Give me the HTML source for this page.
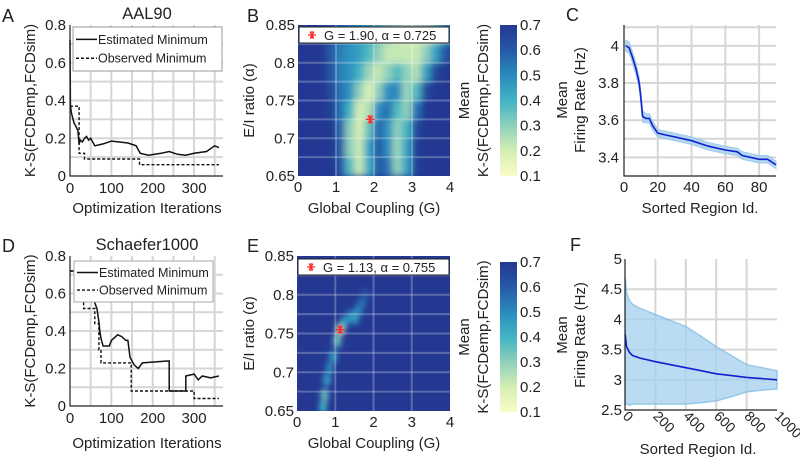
<!DOCTYPE html>
<html><head><meta charset="utf-8"><style>
html,body{margin:0;padding:0;background:#fff;}
svg{display:block;font-family:"Liberation Sans",sans-serif;}
</style></head><body>
<svg id="fig" width="800" height="460" viewBox="0 0 800 460" xmlns="http://www.w3.org/2000/svg">
<defs>
<filter id="blurB" x="-10%" y="-10%" width="120%" height="120%"><feGaussianBlur stdDeviation="3.5" edgeMode="duplicate"/></filter>
<filter id="blurE" x="-20%" y="-20%" width="140%" height="140%"><feGaussianBlur stdDeviation="3"/></filter>
<clipPath id="clipB"><rect x="298" y="25" width="152" height="151"/></clipPath>
<clipPath id="clipE"><rect x="297" y="256" width="153" height="155"/></clipPath>
<linearGradient id="cbar" x1="0" y1="1" x2="0" y2="0">
<stop offset="0" stop-color="#fafcc8"/><stop offset="0.1667" stop-color="#d4eeb3"/><stop offset="0.3333" stop-color="#8fd0bb"/><stop offset="0.5" stop-color="#41b4c4"/><stop offset="0.6667" stop-color="#2a8bbf"/><stop offset="0.8333" stop-color="#2559a6"/><stop offset="1" stop-color="#243892"/>
</linearGradient>
</defs>
<g id="root"></g>
</svg>
<script>
// ---------- DATA ----------
const aEstX=[0,1,3,6,10,15,19,22,25,30,35,40,45,50,60,80,100,120,140,160,165,170,190,220,240,260,280,300,330,350,360];
const aEstY=[0.72,0.38,0.34,0.31,0.28,0.26,0.24,0.17,0.19,0.18,0.2,0.21,0.19,0.2,0.16,0.17,0.185,0.18,0.175,0.16,0.14,0.12,0.11,0.12,0.13,0.115,0.11,0.12,0.13,0.16,0.15];
const aObsX=[0,22,22,35,35,168,168,360];
const aObsY=[0.37,0.37,0.12,0.12,0.09,0.09,0.06,0.06];
const dEstX=[0,30,30,50,50,55,60,65,70,72,75,80,95,100,115,125,135,140,145,150,155,165,175,235,240,240,280,280,300,310,320,340,360];
const dEstY=[0.72,0.72,0.70,0.70,0.62,0.6,0.55,0.52,0.45,0.4,0.36,0.32,0.32,0.35,0.38,0.37,0.35,0.35,0.26,0.24,0.22,0.2,0.23,0.24,0.24,0.08,0.08,0.16,0.17,0.14,0.16,0.15,0.16];
const dObsX=[0,25,25,33,33,60,60,70,70,75,75,148,148,300,300,360];
const dObsY=[0.72,0.72,0.66,0.66,0.52,0.52,0.44,0.44,0.3,0.3,0.23,0.23,0.08,0.08,0.04,0.04];
const cX=[1,3,5,7,9,10,11,13,15,17,20,25,30,40,50,60,67,70,80,85,90];
const cMean=[4.0,3.99,3.94,3.88,3.8,3.72,3.62,3.61,3.61,3.57,3.53,3.52,3.51,3.49,3.46,3.44,3.43,3.41,3.39,3.39,3.36];
const cSpread=[0.03,0.03,0.03,0.03,0.03,0.03,0.03,0.025,0.025,0.025,0.02,0.02,0.02,0.02,0.02,0.02,0.02,0.02,0.02,0.02,0.02];
const fX=[1,10,30,50,100,200,300,400,500,600,700,800,900,1000];
const fMean=[3.75,3.55,3.45,3.4,3.36,3.3,3.25,3.2,3.15,3.1,3.07,3.04,3.02,3.0];
const fUpper=[4.7,4.45,4.3,4.25,4.18,4.08,3.98,3.88,3.72,3.55,3.4,3.25,3.2,3.15];
const fLower=[2.6,2.6,2.58,2.6,2.6,2.6,2.6,2.6,2.62,2.65,2.72,2.8,2.83,2.85];
const bG=[0.125,0.375,0.625,0.875,1.125,1.375,1.625,1.875,2.125,2.375,2.625,2.875,3.125,3.375,3.625,3.875];
const bAlpha=[0.6625,0.6875,0.7125,0.7375,0.7625,0.7875,0.8125,0.8375];
const bVals=[
[.7,.7,.7,.7,.62,.38,.22,.42,.6,.55,.3,.45,.68,.7,.7,.7],
[.7,.7,.7,.7,.6,.3,.22,.45,.6,.5,.28,.45,.68,.7,.7,.7],
[.7,.7,.7,.7,.58,.3,.2,.35,.58,.48,.3,.4,.65,.7,.7,.7],
[.7,.7,.7,.68,.55,.4,.2,.25,.5,.55,.38,.3,.55,.7,.7,.7],
[.7,.7,.7,.65,.55,.48,.3,.18,.3,.5,.5,.28,.38,.65,.7,.7],
[.7,.7,.7,.62,.52,.48,.4,.28,.22,.3,.38,.3,.25,.45,.65,.7],
[.7,.7,.7,.6,.52,.48,.45,.38,.3,.22,.22,.22,.22,.3,.45,.6],
[.7,.7,.7,.6,.55,.5,.45,.42,.35,.28,.22,.2,.2,.22,.3,.45]];
const eRidgeG=[0.68,0.72,0.78,0.85,0.95,1.05,1.13,1.25,1.4,1.52,1.6,1.7,1.8];
const eRidgeA=[0.655,0.67,0.69,0.705,0.72,0.74,0.755,0.765,0.772,0.77,0.78,0.79,0.8];
const eRidgeV=[0.4,0.35,0.45,0.5,0.45,0.35,0.22,0.45,0.5,0.45,0.5,0.55,0.62];
const bBest=[1.90,0.725];
const eBest=[1.13,0.755];
const kTicks=[0,0.2,0.4,0.6,0.8];
const iterTicks=[0,100,200,300];
const gTicks=[0,1,2,3,4];
const alphaTicks=[0.65,0.7,0.75,0.8,0.85];
const cbTicks=[0.1,0.2,0.3,0.4,0.5,0.6,0.7];
const cXTicks=[0,20,40,60,80];
const cYTicks=[3.4,3.6,3.8,4];
const fXTicks=[0,200,400,600,800,1000];
const fYTicks=[2.5,3,3.5,4,4.5,5];

// ---------- HELPERS ----------
const NS="http://www.w3.org/2000/svg";
const root=document.getElementById('root');
const TK=15, AT=15;
function mk(tag,attrs,parent,txt){const e=document.createElementNS(NS,tag);for(const k in attrs)e.setAttribute(k,attrs[k]);if(txt!==undefined)e.textContent=txt;(parent||root).appendChild(e);return e;}
function scale(d0,d1,r0,r1){return v=>r0+(v-d0)/(d1-d0)*(r1-r0);}
function pathOf(xs,ys,sx,sy){return xs.map((x,i)=>(i?'L':'M')+sx(x).toFixed(1)+','+sy(ys[i]).toFixed(1)).join('');}
const stops=[[0.1,[250,252,200]],[0.2,[212,238,179]],[0.3,[143,208,187]],[0.4,[65,180,196]],[0.5,[42,139,191]],[0.6,[37,89,166]],[0.7,[36,56,146]]];
function cmap(v){v=Math.max(0.1,Math.min(0.7,v));for(let i=0;i<stops.length-1;i++){const a=stops[i],b=stops[i+1];if(v<=b[0]){const t=(v-a[0])/(b[0]-a[0]);const c=a[1].map((x,j)=>Math.round(x+(b[1][j]-x)*t));return 'rgb('+c.join(',')+')';}}return 'rgb(36,56,146)';}
function txt(x,y,s,size,anchor,name,extra){const t=mk('text',Object.assign({x:x,y:y,'font-size':size,'text-anchor':anchor||'middle',fill:'#222'},extra||{}),root,s);return t;}
function vtxt(x,y,s,size,name){const t=mk('text',{x:0,y:0,'font-size':size,'text-anchor':'middle',fill:'#222',transform:'translate('+x+','+y+') rotate(-90)'},root,s);return t;}
function star(g,cx,cy,r,name,inter){
  const s=mk('g',{stroke:'#ff2a2a','stroke-width':1.3},g);
  
  [0,60,120].forEach(a=>{const rad=a*Math.PI/180;mk('line',{x1:cx-r*Math.cos(rad),y1:cy-r*Math.sin(rad),x2:cx+r*Math.cos(rad),y2:cy+r*Math.sin(rad)},s);});
  mk('line',{x1:cx,y1:cy-r,x2:cx,y2:cy+r},s);
}
function gridAxes(g,x0,x1,y0,y1,sx,sy,vx,vy,col,w){
  vx.forEach(v=>{const l=mk('line',{x1:sx(v),x2:sx(v),y1:y0,y2:y1,stroke:col,'stroke-width':w},g);});
  vy.forEach(v=>{const l=mk('line',{x1:x0,x2:x1,y1:sy(v),y2:sy(v),stroke:col,'stroke-width':w},g);});
}
function axisLines(g,x0,x1,y0,y1){
  const a=mk('path',{d:`M${x0},${y0}L${x0},${y1}L${x1},${y1}`,fill:'none',stroke:'#222','stroke-width':1.2},g);
  
}
function range(a,b,s){const r=[];for(let v=a;v<=b+1e-9;v+=s)r.push(+v.toFixed(4));return r;}

// ---------- PANEL A / D ----------
function optPanel(tag,y0,y1,estX,estY,obsX,obsY,title,legend){
  const x0=70,x1=223;
  const sx=scale(0,370,x0,x1), sy=scale(0,0.8,y1,y0);
  const g=mk('g',{});
  gridAxes(g,x0,x1,y0,y1,sx,sy,range(50,350,50),range(0.1,0.7,0.1),'#d6d6d6',2);
  const o=mk('path',{d:pathOf(obsX,obsY,sx,sy),fill:'none',stroke:'#111','stroke-width':1.4,'stroke-dasharray':'3,2'},g);
  
  const e=mk('path',{d:pathOf(estX,estY,sx,sy),fill:'none',stroke:'#111','stroke-width':1.5},g);
  
  axisLines(g,x0,x1,y0,y1);
  kTicks.forEach(v=>txt(x0-4,sy(v)+5,String(v),TK,'end','y-tick-label'));
  iterTicks.forEach(v=>txt(sx(v),y1+17,String(v),TK,'middle','x-tick-label'));
  const lb=mk('rect',{x:legend[0],y:legend[1],width:legend[2],height:legend[3],fill:'#fff',stroke:legend[4],'stroke-width':1},g);
  
  const ly1=legend[1]+legend[3]*0.28, ly2=legend[1]+legend[3]*0.71;
  let l=mk('line',{x1:legend[0]+3,x2:legend[0]+24,y1:ly1,y2:ly1,stroke:'#111','stroke-width':1.5},g);
  l=mk('line',{x1:legend[0]+3,x2:legend[0]+24,y1:ly2,y2:ly2,stroke:'#111','stroke-width':1.4,'stroke-dasharray':'3,2'},g);
  txt(legend[0]+25,ly1+4.5,'Estimated Minimum',12.5,'start','legend-estimated-label');
  txt(legend[0]+25,ly2+4.5,'Observed Minimum',12.5,'start','legend-observed-label');
  txt(147,y0-6,title,16.5,'middle','panel-title');
  vtxt(35,(y0+y1)/2,'K-S(FCDemp,FCDsim)',AT,'y-axis-title');
}
optPanel('a',25,176,aEstX,aEstY,aObsX,aObsY,'AAL90',[73,27,149,44,'#999']);
txt(147,213,'Optimization Iterations',AT,'middle','x-axis-title');
optPanel('d',256,406,dEstX,dEstY,dObsX,dObsY,'Schaefer1000',[74,261,139,41,'#aaa']);
txt(147,448,'Optimization Iterations',AT,'middle','x-axis-title');

// ---------- PANEL B / E heatmaps ----------
function heatDecor(x0,x1,y0,y1,sx,sy,best,legendY,cbY0,cbY1,labelsY){
  const g=mk('g',{});
  gridAxes(g,x0,x1,y0,y1,sx,sy,[1,2,3],range(0.675,0.825,0.025),'rgba(255,255,255,0.25)',2);
  star(g,sx(best[0]),sy(best[1]),4.5,'best-fit-marker','true');
  const lb=mk('rect',{x:x0+1,y:legendY,width:x1-x0-2,height:16,fill:'#fff',stroke:'#222','stroke-width':1},g);
  
  star(g,x0+14,legendY+8,4,'legend-marker','false');
  txt(x0+26,legendY+13,'G = '+best[0].toFixed(2)+', α = '+best[1].toFixed(3),13,'start','legend-label');
  alphaTicks.forEach(v=>txt(x0-3,sy(v)+5,String(v),TK,'end','y-tick-label'));
  gTicks.forEach(v=>txt(sx(v),labelsY,String(v),TK,'middle','x-tick-label'));
  const cb=mk('rect',{x:500,y:cbY0,width:17,height:cbY1-cbY0,fill:'url(#cbar)'});
  
  const cs=scale(0.1,0.7,cbY1,cbY0);
  cbTicks.forEach(v=>txt(520,cs(v)+5,String(v),TK,'start','colorbar-tick-label'));
  vtxt(469,(cbY0+cbY1)/2,'Mean',AT,'colorbar-title');
  vtxt(488,(cbY0+cbY1)/2,'K-S(FCDemp,FCDsim)',AT,'colorbar-title');
  vtxt(254,(y0+y1)/2,'E/I ratio (α)',AT,'y-axis-title');
}
// B
(function(){
  const x0=298,x1=450,y0=25,y1=176;
  const sx=scale(0,4,x0,x1), sy=scale(0.65,0.85,y1,y0);
  const g=mk('g',{'clip-path':'url(#clipB)'});
  mk('rect',{x:x0,y:y0,width:x1-x0,height:y1-y0,fill:cmap(0.7)},g);
  const inner=mk('g',{filter:'url(#blurB)'},g);
  const cw=sx(0.25)-sx(0), ch=sy(0.65)-sy(0.675);
  bAlpha.forEach((a,r)=>bG.forEach((gv,c)=>{
    const cell=mk('rect',{x:sx(gv)-cw/2-0.5,y:sy(a)-ch/2-0.5,width:cw+1,height:ch+1,fill:cmap(bVals[r][c])},inner);
    
  }));
  heatDecor(x0,x1,y0,y1,sx,sy,bBest,27,25,176,192);
  txt(374,213,'Global Coupling (G)',AT,'middle','x-axis-title');
})();
// E
(function(){
  const x0=297,x1=450,y0=256,y1=411;
  const sx=scale(0,4,x0,x1), sy=scale(0.65,0.85,y1,y0);
  const g=mk('g',{'clip-path':'url(#clipE)'});
  mk('rect',{x:x0,y:y0,width:x1-x0,height:y1-y0,fill:cmap(0.7)},g);
  const inner=mk('g',{filter:'url(#blurE)'},g);
  eRidgeG.forEach((gv,i)=>{
    const b=mk('ellipse',{cx:sx(gv),cy:sy(eRidgeA[i]),rx:4,ry:6.5,fill:cmap(eRidgeV[i])},inner);
    
  });
  heatDecor(x0,x1,y0,y1,sx,sy,eBest,259,262,412,427);
  txt(374,448,'Global Coupling (G)',AT,'middle','x-axis-title');
})();

// ---------- PANEL C ----------
(function(){
  const x0=624,x1=776,y0=25,y1=176;
  const sx=scale(0,90,x0,x1), sy=scale(3.3,4.112,y1,y0);
  const g=mk('g',{});
  gridAxes(g,x0,x1,y0,y1,sx,sy,[20,40,60,80],range(3.4,4.1,0.1),'#d6d6d6',2);
  const up=cMean.map((m,i)=>m+cSpread[i]), lo=cMean.map((m,i)=>m-cSpread[i]);
  const band=mk('path',{d:pathOf(cX,up,sx,sy)+pathOf(cX.slice().reverse(),lo.slice().reverse(),sx,sy).replace('M','L')+'Z',fill:'#a8d2ee',stroke:'#8ec3e8','stroke-width':1,opacity:0.85},g);
  
  const l=mk('path',{d:pathOf(cX,cMean,sx,sy),fill:'none',stroke:'#1020d0','stroke-width':1.6},g);
  
  axisLines(g,x0,x1,y0,y1);
  cYTicks.forEach(v=>txt(x0-5,sy(v)+5,String(v),TK,'end','y-tick-label'));
  cXTicks.forEach(v=>txt(sx(v),192,String(v),TK,'middle','x-tick-label'));
  vtxt(567,100,'Mean',AT,'y-axis-title');
  vtxt(585,100,'Firing Rate (Hz)',AT,'y-axis-title');
  txt(700,213,'Sorted Region Id.',AT,'middle','x-axis-title');
})();

// ---------- PANEL F ----------
(function(){
  const x0=625,x1=777,y0=259,y1=410;
  const sx=scale(0,1000,x0,x1), sy=scale(2.5,5,y1,y0);
  const g=mk('g',{});
  gridAxes(g,x0,x1,y0,y1,sx,sy,[200,400,600,800],[3,3.5,4,4.5],'#d6d6d6',2);
  const band=mk('path',{d:pathOf(fX,fUpper,sx,sy)+pathOf(fX.slice().reverse(),fLower.slice().reverse(),sx,sy).replace('M','L')+'Z',fill:'#a9d3ee',stroke:'#7dbbe6','stroke-width':1.5,opacity:0.8},g);
  
  const l=mk('path',{d:pathOf(fX,fMean,sx,sy),fill:'none',stroke:'#1020d0','stroke-width':1.6},g);
  
  axisLines(g,x0,x1,y0,y1);
  fYTicks.forEach(v=>txt(x0-3,sy(v)+5,String(v),TK,'end','y-tick-label'));
  fXTicks.forEach(v=>{const t=mk('text',{x:0,y:0,'font-size':14,'text-anchor':'start',fill:'#222',transform:`translate(${sx(v)-3},${y1+7}) rotate(45)`},root,String(v));
    });
  vtxt(567,335,'Mean',AT,'y-axis-title');
  vtxt(585,335,'Firing Rate (Hz)',AT,'y-axis-title');
  txt(698,454,'Sorted Region Id.',AT,'middle','x-axis-title');
})();

// panel letters
[['A',2,22],['B',247,22],['C',566,21],['D',2,252],['E',247,252],['F',570,251]].forEach(p=>txt(p[1],p[2],p[0],18,'start','panel-letter'));
</script>
</body></html>
